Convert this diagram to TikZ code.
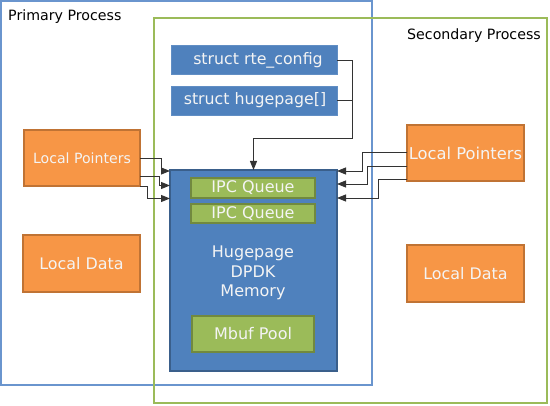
\documentclass[tikz,border=0pt]{standalone}
\usepackage{fontspec}
\setmainfont{DejaVu Sans}
\usetikzlibrary{arrows.meta}
\definecolor{primc}{HTML}{6A95CE}
\definecolor{secc}{HTML}{9BBB59}
\definecolor{bluef}{HTML}{4F81BD}
\definecolor{blued}{HTML}{3A5F8B}
\definecolor{orf}{HTML}{F79646}
\definecolor{ord}{HTML}{C07334}
\definecolor{grf}{HTML}{9BBB59}
\definecolor{grd}{HTML}{71893F}
\definecolor{linec}{HTML}{333333}
\definecolor{txtw}{HTML}{F4F4F4}
\tikzset{
  procbox/.style={draw, line width=1.6pt, anchor=north west, inner sep=0pt, outer sep=0pt},
  bluebox/.style={fill=bluef, draw=bluef!90!white, line width=0.6pt, text=txtw, inner sep=0pt, outer sep=0pt,
     font=\fontsize{15.8}{18}\selectfont},
  membox/.style={fill=bluef, draw=blued, line width=1.2pt, inner sep=0pt, outer sep=0pt},
  orbox/.style={fill=orf, draw=ord, line width=1.2pt, text=txtw, inner sep=0pt, outer sep=0pt,
     font=\fontsize{15.9}{18}\selectfont},
  grbox/.style={fill=grf, draw=grd, line width=1.2pt, text=txtw, inner sep=0pt, outer sep=0pt,
     font=\fontsize{16}{18}\selectfont},
  lbl/.style={font=\fontsize{14.2}{16}\selectfont, text=black, inner sep=0pt},
  conn/.style={draw=linec, line width=0.9pt},
  arr/.style={conn, -{Triangle[length=9pt,width=7pt]}},
}
\begin{document}
\begin{tikzpicture}[x=1pt,y=-1pt]
\useasboundingbox (0,0) rectangle (550,406);
% process frames
\node[procbox, draw=primc, minimum width=371pt, minimum height=384pt] (prim) at (1,1) {};
\node[procbox, draw=secc, minimum width=393pt, minimum height=385pt] (sec) at (154,18) {};
\node[lbl, anchor=west] (primlbl) at (8,17) {Primary Process};
\node[lbl, anchor=east] (seclbl) at (541,36) {Secondary Process};
% struct boxes
\node[bluebox, minimum width=166pt, minimum height=29pt] (rte) at (254,60) {\hspace{8pt}struct rte\_config};
\node[bluebox, minimum width=166pt, minimum height=29pt] (huge) at (254,100.5) {\hspace{2pt}struct hugepage[]};
% memory
\node[membox, minimum width=167pt, minimum height=201pt] (mem) at (253.5,270.5) {};
\node[grbox, minimum width=124pt, minimum height=20pt] (ipc1) at (253,188) {IPC Queue};
\node[grbox, minimum width=124pt, minimum height=19pt] (ipc2) at (253,213.5) {IPC Queue};
\node[align=center, text=txtw, font=\fontsize{16}{19.5}\selectfont, inner sep=0pt] (memtxt) at (253,273) {Hugepage\\DPDK\\Memory};
\node[grbox, minimum width=122pt, minimum height=36pt] (mbuf) at (253,334) {Mbuf Pool};
% local boxes
\node[orbox, minimum width=116pt, minimum height=56pt, font=\fontsize{14.1}{16}\selectfont] (lpl) at (82,158) {Local Pointers};
\node[orbox, minimum width=117pt, minimum height=57pt] (ldl) at (81.5,263.5) {Local Data};
\node[orbox, minimum width=117pt, minimum height=56pt, font=\fontsize{16.3}{18}\selectfont] (lpr) at (465.5,153) {Local Pointers};
\node[orbox, minimum width=117pt, minimum height=57pt] (ldr) at (465.5,273.5) {Local Data};
% connectors from struct boxes
\coordinate (jt) at (352,138);
\draw[conn] (huge.east) -- (huge.east -| jt);
\draw[arr] (rte.east) -| (jt) -| (mem.north);
% left pointers
\draw[arr] (lpl.east) -| (161,171) -- (mem.west |- 0,171);
\draw[arr] (lpl.east |- 0,176) -| (159,185.5) -- (mem.west |- 0,185.5);
\draw[arr] (lpl.east |- 0,186) -| (147,198.5) -- (mem.west |- 0,198.5);
% right pointers
\draw[arr] (lpr.west |- 0,152) -| (362,171) -- (mem.east |- 0,171);
\draw[arr] (lpr.west |- 0,166) -| (367,184) -- (mem.east |- 0,184);
\draw[arr] (lpr.west |- 0,179) -| (378,198) -- (mem.east |- 0,198);
\end{tikzpicture}
\end{document}
